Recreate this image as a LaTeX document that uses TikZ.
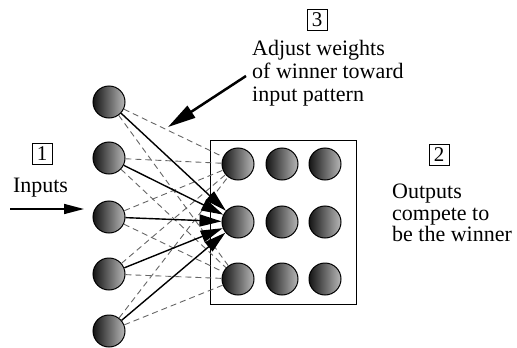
\documentclass[tikz,border=0pt]{standalone}
\usepackage{fontspec}
\setmainfont{Liberation Serif}
\usetikzlibrary{arrows.meta}
\begin{document}
\begin{tikzpicture}[x=1pt,y=-1pt,
  neuron/.style={circle,minimum size=32pt,inner sep=0pt,draw=black,line width=1pt,
    left color=black!92,right color=black!28},
  weak/.style={draw=black!60,dashed,dash pattern=on 6pt off 4pt,line width=0.9pt},
  strong/.style={draw=black,line width=1.4pt,-{Triangle[length=22pt,width=12pt]}},
  numbox/.style={draw=black,line width=0.9pt,inner sep=0pt,minimum width=20pt,minimum height=21pt,
    font=\fontsize{21}{21}\selectfont},
  lbl/.style={align=left,font=\fontsize{22}{23}\selectfont,inner sep=0pt}]
\useasboundingbox (0,0) rectangle (517,348);

% competitive layer frame
\node[draw=black,line width=1pt,minimum width=146pt,minimum height=164pt,inner sep=0pt] (frame) at (283.5,222) {};

% input layer
\foreach \i/\y in {1/102,2/158,3/217,4/274,5/331}
  \node[neuron] (in\i) at (109,\y) {};

% output grid
\foreach \r/\y in {1/164,2/222,3/279}
  \foreach \c/\x in {1/238,2/282,3/325}
    \node[neuron] (o\r\c) at (\x,\y) {};

% weak connections to the losing outputs
\foreach \i in {1,...,5} {
  \draw[weak] (in\i) -- (o11);
  \draw[weak] (in\i) -- (o31);
}
% strong connections to the winner
\foreach \i in {1,...,5}
  \draw[strong] (in\i) -- (o21);

% step 1: inputs
\node[numbox] (n1) at (42,154) {1};
\node[lbl,anchor=base] (inputs) at (40.5,192) {Inputs};
\coordinate (inA) at (10,209);
\coordinate (inB) at (84,209);
\draw[line width=1.6pt,-{Triangle[length=20pt,width=10pt]}] (inA) -- (inB);

% step 2: competition
\node[numbox] (n2) at (439,155) {2};
\node[lbl,anchor=north west,font=\fontsize{22}{21.5}\selectfont] (outs) at (392,184) {Outputs\\compete to\\be the winner};

% step 3: weight update
\node[numbox] (n3) at (317,20) {3};
\node[lbl,anchor=north west] (adj) at (252,40) {Adjust weights\\of winner toward\\input pattern};
\coordinate (aS) at (246,76);
\coordinate (aE) at (168,127);
\draw[line width=2.5pt,-{Triangle[length=28pt,width=14pt]}] (aS) -- (aE);
\end{tikzpicture}
\end{document}
